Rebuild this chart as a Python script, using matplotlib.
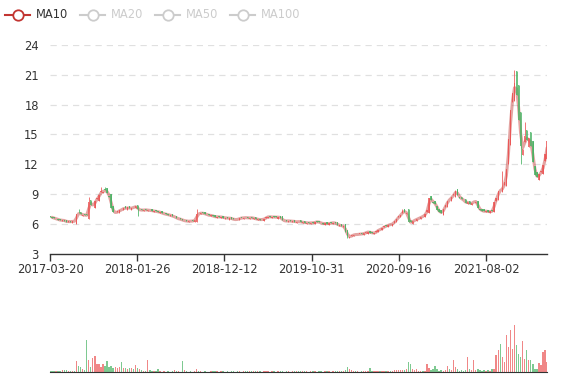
import matplotlib
matplotlib.use('Agg')
import matplotlib.pyplot as plt
import numpy as np
import pandas as pd
from matplotlib.lines import Line2D

# weekly samples (every 5 trading days) of the daily series
closes = [
    6.70, 6.62, 6.55, 6.48, 6.42, 6.35, 6.38, 6.30, 6.22, 6.25, 6.20, 6.28, 6.25,
    6.95, 7.10, 6.95, 6.90, 6.88, 6.85,
    8.20, 7.95, 7.85, 8.30, 8.60, 8.90, 9.30, 9.25, 9.40, 9.10, 8.70,
    7.60, 7.20, 7.10, 7.25, 7.35, 7.45, 7.60, 7.55, 7.65, 7.55, 7.60, 7.70, 7.75,
    7.45, 7.40, 7.38, 7.40, 7.42, 7.35, 7.38, 7.30, 7.28, 7.25, 7.20, 7.15, 7.05, 7.00, 6.95, 6.90, 6.85, 6.75, 6.70,
    6.55, 6.50, 6.45, 6.35, 6.30, 6.28, 6.25, 6.30, 6.28, 6.40,
    6.95, 7.05, 7.10, 7.05, 7.00, 6.90, 6.85, 6.85, 6.75, 6.70, 6.72, 6.68, 6.70, 6.60, 6.62, 6.55, 6.60, 6.50,
    6.45, 6.42, 6.48, 6.55, 6.62, 6.60, 6.65, 6.58, 6.62, 6.60, 6.55, 6.48, 6.45, 6.42, 6.45, 6.50, 6.68, 6.72,
    6.70, 6.68, 6.70, 6.65, 6.70, 6.60,
    6.35, 6.30, 6.28, 6.32, 6.25, 6.28, 6.22, 6.20, 6.25, 6.18,
    6.15, 6.12, 6.10, 6.08, 6.12, 6.10, 6.18, 6.22, 6.15, 6.05, 6.02, 6.05, 6.00, 6.05, 6.10, 6.12, 6.05, 5.90,
    5.85, 5.80, 5.75, 5.20,
    4.75, 4.70, 4.85, 4.90, 4.95, 4.92, 5.00, 4.98, 5.05, 5.15, 5.20, 5.12, 5.10, 5.05, 5.25, 5.40, 5.45, 5.60,
    5.75, 5.80, 5.90, 5.95, 6.00, 6.30, 6.45, 6.80, 6.90, 7.30, 7.20, 7.05, 6.20, 6.15, 6.30, 6.40, 6.50, 6.60,
    6.70, 6.78,
    7.00, 7.40, 8.60, 8.40, 8.10, 8.00, 7.40, 7.20, 7.10, 7.50, 7.90, 8.30, 8.50, 8.70, 9.00, 9.30, 8.90, 8.60,
    8.50, 8.30, 8.10, 8.20, 8.00, 8.10, 8.30, 8.20, 7.60, 7.40, 7.30, 7.25, 7.30, 7.20, 7.25, 7.30, 8.20, 8.60,
    9.30,
    9.40, 9.60, 10.20, 11.50, 14.50, 17.50, 19.20, 20.20, 19.00, 16.50, 13.80, 13.50, 14.80, 14.40, 14.60, 13.80,
    12.20, 10.90, 10.70, 11.00, 11.30, 11.90, 13.00, 14.30,
]
first_close_before = 6.65

# opening gap of each period relative to the previous close
open_gap = [
    0.10, -0.05, 0.08, -0.10, 0.06, 0.12, -0.08, 0.05, 0.10, -0.06, 0.08, -0.12, 0.05,
    -0.30, 0.15, 0.10, -0.12, 0.08, 0.10,
    -0.40, 0.25, -0.20, -0.30, 0.20, -0.25, 0.30, -0.20, 0.25, 0.20, -0.30,
    0.30, 0.15, -0.12, 0.10, -0.15, 0.12, -0.10, 0.15, -0.12, 0.10, -0.15, 0.12, -0.08,
    0.15, -0.10, 0.12, -0.08, 0.10, -0.12, 0.08, 0.10, -0.10, 0.12, 0.08, -0.10, 0.12, -0.08, 0.10, 0.08, -0.10, 0.12, -0.08,
    0.10, -0.08, 0.12, 0.08, -0.10, 0.10, -0.12, 0.08, 0.10, -0.10,
    -0.20, 0.15, -0.10, 0.12, 0.10, -0.08, 0.12, -0.10, 0.08, 0.10, -0.12, 0.08, -0.10, 0.12, -0.08, 0.10, -0.12, 0.08,
    0.10, -0.08, 0.12, -0.10, 0.08, -0.12, 0.10, 0.08, -0.10, 0.12, -0.08, 0.10, -0.12, 0.08, 0.10, -0.15, 0.10, -0.08,
    0.12, -0.10, 0.08, 0.10, -0.12, 0.08,
    0.15, -0.10, 0.08, -0.12, 0.10, -0.08, 0.12, -0.10, 0.08, 0.10,
    -0.08, 0.10, -0.12, 0.08, -0.10, 0.12, -0.08, 0.10, 0.12, -0.10, 0.08, -0.12, 0.10, -0.08, 0.12, -0.10, 0.08, 0.10,
    -0.08, 0.10, -0.12, 0.20,
    0.15, -0.12, 0.10, -0.08, 0.12, -0.10, 0.08, 0.12, -0.10, 0.08, -0.12, 0.10, 0.08, -0.12, 0.10, -0.08, 0.12, -0.10,
    0.08, 0.12, -0.10, 0.10, -0.12, 0.08, -0.15, 0.20, -0.15, 0.20, 0.15, -0.20, 0.40, 0.15, -0.15, 0.10, -0.12, 0.10,
    -0.10, 0.12,
    -0.10, 0.20, -0.30, 0.25, -0.15, 0.20, -0.15, 0.12, 0.15, -0.20, 0.15, -0.20, 0.25, -0.15, 0.20, -0.25, 0.20, -0.15,
    0.12, -0.15, 0.20, -0.12, 0.15, -0.10, 0.20, -0.15, 0.12, -0.15, 0.12, 0.15, -0.10, 0.12, -0.10, 0.12, -0.15, 0.10,
    -0.20,
    0.15, -0.20, 0.30, -0.40, 0.50, -0.60, 0.80, -0.80, 1.20, 1.00, 0.80, -0.90, 0.70, 0.60, -0.70, 0.60,
    0.50, -0.40, 0.30, -0.30, 0.25, -0.30, 0.40, -0.50,
]

volumes = [
    1.5, 1.0, 1.0, 1.5, 1.0, 1.0, 2.5, 2.5, 2.0, 1.5, 1.0, 1.5, 1.5,
    11.5, 6.0, 5.0, 3.0, 2.5, 32.0,
    12.0, 5.0, 14.0, 16.5, 8.0, 8.0, 5.0, 8.0, 6.0, 11.0, 5.0,
    6.0, 4.0, 5.0, 4.0, 5.0, 10.0, 4.0, 4.0, 3.5, 4.0, 4.5, 3.0, 7.0,
    4.0, 3.5, 2.0, 1.5, 1.5, 12.0, 2.0, 1.0, 1.5, 1.0, 3.0, 1.0, 0.8, 1.0, 0.8, 1.0, 0.8, 1.0, 2.5,
    1.0, 1.0, 0.8, 11.5, 2.0, 1.0, 0.8, 1.0, 0.8, 1.0,
    3.5, 1.5, 1.0, 0.8, 1.0, 0.8, 0.8, 1.0, 1.5, 1.5, 1.2, 0.8, 1.0, 1.2, 0.8, 1.0, 0.8, 1.2,
    1.0, 0.8, 1.0, 1.2, 0.8, 1.0, 1.8, 1.5, 1.0, 1.0, 1.2, 1.0, 1.5, 1.0, 0.8, 1.0, 1.0, 1.3,
    0.8, 1.0, 1.2, 0.8, 1.0, 1.2,
    1.0, 0.8, 1.2, 1.0, 0.8, 1.0, 1.2, 1.5, 1.0, 1.2,
    1.5, 1.0, 1.2, 0.8, 1.0, 1.5, 1.0, 0.8, 1.2, 1.0, 0.8, 1.0, 1.2, 1.0, 0.8, 1.5, 1.0, 1.2,
    1.0, 1.5, 1.2, 2.0,
    5.0, 3.0, 2.0, 1.0, 1.2, 1.0, 0.8, 1.0, 1.2, 1.0, 1.0, 4.0, 1.2, 1.0, 1.5, 1.2, 1.0, 1.5,
    1.2, 1.0, 1.5, 1.2, 1.5, 2.0, 2.5, 2.0, 2.5, 2.0, 2.5, 3.0, 10.0, 8.0, 3.0, 2.0, 3.5, 1.5,
    1.5, 1.5,
    1.5, 8.0, 4.0, 2.0, 3.0, 6.0, 3.0, 1.5, 2.0, 1.5, 2.0, 6.0, 3.0, 2.0, 12.0, 5.0, 3.0, 1.5,
    2.0, 1.5, 2.0, 15.0, 3.0, 2.0, 12.0, 2.0, 3.5, 2.0, 1.5, 2.0, 1.5, 2.0, 1.5, 3.5, 3.0, 17.0,
    22.0,
    28.0, 15.0, 10.0, 37.0, 25.0, 42.0, 23.0, 47.0, 27.0, 18.0, 15.0, 31.0, 13.0, 22.0, 12.0, 12.0,
    8.0, 3.0, 3.0, 9.0, 7.0, 20.0, 22.0, 10.0,
]

# notable intraperiod extremes (wicks)
spike_idx = [14, 19, 25, 27, 43, 72, 146, 173, 199, 222, 228, 231, 233]
spike_val = [7.45, 8.75, 9.70, 9.75, 6.75, 7.50, 4.60, 7.50, 9.40, 11.30, 21.50, 12.00, 16.30]

tick_labels = ['2017-03-20', '2018-01-26', '2018-12-12', '2019-10-31', '2020-09-16', '2021-08-02']
legend_names = ['MA10', 'MA20', 'MA50', 'MA100']
days_per_sample = 5
label_interval = 214
total_days = 1220.5
y_ticks = [3, 6, 9, 12, 15, 18, 21, 24]

UP = '#eb5454'
DOWN = '#47b262'
MA_COLOR = '#c23531'
TXT = '#333333'
plt.rcParams['font.family'] = ['DejaVu Sans']

closes = np.array(closes, dtype=float)
volumes = np.array(volumes, dtype=float)
prev_close = np.concatenate([[first_close_before], closes[:-1]])
opens = prev_close + np.array(open_gap, dtype=float)
highs = np.maximum(opens, closes)
lows = np.minimum(opens, closes)
for i, v in zip(spike_idx, spike_val):
    if v > highs[i]:
        highs[i] = v
    elif v < lows[i]:
        lows[i] = v
x = np.arange(len(closes)) * days_per_sample
up = closes >= opens
cols = np.where(up, UP, DOWN)

W, H = 577, 380
fig = plt.figure(figsize=(W / 100, H / 100), dpi=100)

ax = fig.add_axes([50 / W, (H - 253.7) / H, 497.3 / W, 208.7 / H])
ax.set_xlim(0, total_days)
ax.set_ylim(3, 24)
ax.set_yticks(y_ticks)
for v in y_ticks[1:]:
    ax.axhline(v, color='#e0e0e0', lw=0.9, ls=(0, (5, 4)), zorder=0)

ma10 = pd.Series(closes).rolling(2).mean().values
ax.plot(x, ma10, color=MA_COLOR, lw=2.2, alpha=0.45, zorder=1, solid_capstyle='round')

body_bottom = np.minimum(opens, closes)
body_h = np.maximum(np.abs(closes - opens), 0.04)
ax.vlines(x, lows, highs, colors=cols, lw=0.7, alpha=0.8, zorder=2)
ax.bar(x, body_h, bottom=body_bottom, width=3.4, color=cols, linewidth=0, alpha=0.8, zorder=2)

for s in ['top', 'right', 'left']:
    ax.spines[s].set_visible(False)
ax.spines['bottom'].set_color(TXT)
ax.spines['bottom'].set_linewidth(1)
ax.tick_params(axis='y', length=0, pad=8, labelsize=8.3, labelcolor=TXT)
ax.set_xticks([i * label_interval for i in range(len(tick_labels))])
ax.set_xticklabels(tick_labels)
ax.tick_params(axis='x', length=5, width=1, color=TXT, pad=2, labelsize=8.3, labelcolor=TXT)

vax = fig.add_axes([50 / W, 7.7 / H, 497.3 / W, 62.3 / H])
vax.set_xlim(0, total_days)
vax.set_ylim(0, 62.3)
vax.bar(x, volumes, width=3.4, color=cols, linewidth=0, alpha=0.7)
for s in ['top', 'right', 'left']:
    vax.spines[s].set_visible(False)
vax.spines['bottom'].set_color(TXT)
vax.set_xticks([])
vax.set_yticks([])

# legend
ly = (H - 15) / H
starts = [5, 80, 155, 230]
for k, (name, sx) in enumerate(zip(legend_names, starts)):
    c = MA_COLOR if k == 0 else '#cccccc'
    tc = TXT if k == 0 else '#cccccc'
    fig.add_artist(Line2D([sx / W, (sx + 25) / W], [ly, ly], color=c, lw=1.5))
    fig.add_artist(Line2D([(sx + 12.5) / W], [ly], marker='o', markersize=7.5,
                          markerfacecolor='white', markeredgecolor=c, markeredgewidth=1.3))
    fig.text((sx + 31) / W, ly, name, color=tc, fontsize=8.3, va='center', ha='left')

fig.savefig('out.png', dpi=100)
